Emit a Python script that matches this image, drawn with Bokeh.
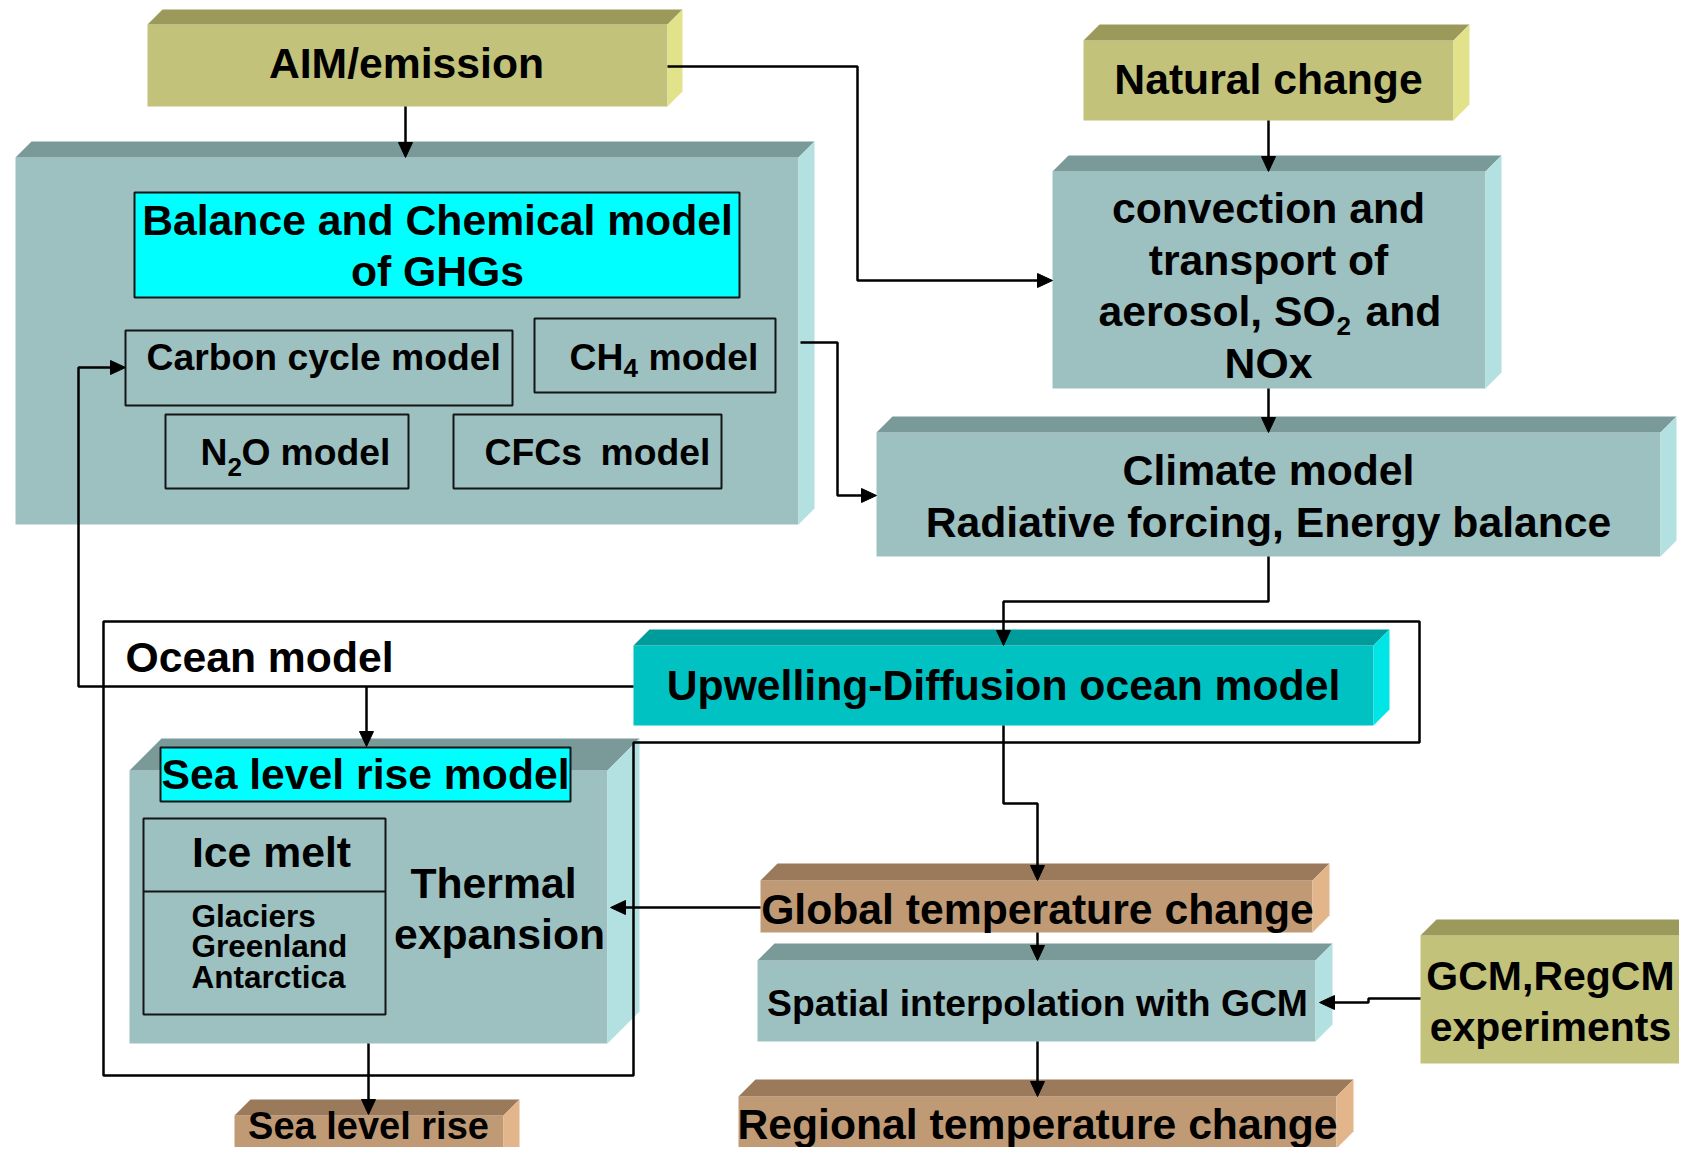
from bokeh.plotting import figure
from bokeh.models import Range1d, ColumnDataSource
from bokeh.core.properties import value
from bokeh.embed import file_html
from bokeh.resources import INLINE

W, H = 1679, 1147
FONT = value("Liberation Sans")

# ---------------- diagram content ----------------
# 3D boxes (front face) and their colour scheme
box_names = ["AIM", "Natural", "GHG", "Convection", "Climate", "Upwelling",
             "SeaModel", "GlobalT", "Spatial", "Regional", "GCM", "SeaRise"]
box_x0 = [147, 1083, 15, 1052, 876, 633, 129, 760, 757, 738, 1420, 234]
box_y0 = [24, 40, 157, 171, 432, 645, 770, 880, 960, 1096, 935, 1115]
box_x1 = [667, 1453, 798, 1485, 1660, 1373, 607, 1312, 1315, 1336, 1686, 503]
box_y1 = [106, 120, 524, 388, 556, 725, 1043, 932, 1041, 1148, 1063, 1185]
box_depth = [15, 16, 16, 16, 16, 16, 32, 17, 17, 17, 16, 16]
box_kind = ["olive", "olive", "teal", "teal", "teal", "cyan",
            "teal", "brown", "teal", "brown", "olive", "brown"]

palette = {
    "olive": ("#C2C27A", "#9C9A5A", "#E2E28A"),
    "teal": ("#9DC1C1", "#7A9999", "#B3E0E0"),
    "brown": ("#C09A74", "#9A7A5A", "#E3B58A"),
    "cyan": ("#00C2C2", "#009C9C", "#00E6E6"),
}

# inner framed rectangles
inner_x0 = [134, 125, 534, 165, 453, 160, 143]
inner_y0 = [192, 330, 318, 414, 414, 747, 818]
inner_x1 = [739, 512, 775, 408, 721, 570, 385]
inner_y1 = [297, 405, 392, 488, 488, 801, 1014]
inner_fill = ["#00FFFF", None, None, None, None, "#00FFFF", None]

# texts: (text, x, y)
big_center = [("AIM/emission", 406, 62), ("Natural change", 1268, 78),
              ("Balance and Chemical model", 437, 219), ("of GHGs", 437, 270),
              ("convection and", 1268, 207), ("transport of", 1268, 259),
              ("NOx", 1268, 362), ("Climate model", 1268, 469),
              ("Radiative forcing, Energy balance", 1268, 521),
              ("Upwelling-Diffusion ocean model", 1003, 684),
              ("Sea level rise model", 365, 773), ("Ice melt", 271, 851),
              ("Thermal", 493, 882), ("expansion", 499, 933),
              ("Global temperature change", 1037, 908),
              ("Regional temperature change", 1037, 1123)]
edge_center = [("GCM,RegCM", 1550, 975), ("experiments", 1550, 1026)]
bottom_center = [("Sea level rise", 368, 1125)]
big_left = [("Ocean model", 125, 656), ("aerosol, SO", 1098, 310), ("and", 1365, 310)]
mid_center = [("Spatial interpolation with GCM", 1037, 1002)]
mid_left = [("Carbon cycle model", 146, 356), ("CH", 569, 356), ("model", 648, 356),
            ("N", 200, 451), ("O", 241, 451), ("model", 280, 451),
            ("CFCs", 484, 451), ("model", 600, 451)]
sub_left = [("4", 623, 367), ("2", 227, 466), ("2", 1336, 325)]
small_left = [("Glaciers", 191, 915), ("Greenland", 191, 945), ("Antarctica", 191, 976)]

# connectors (polylines ending in an arrow head)
connectors = [
    [(405, 106), (405, 157)],
    [(667, 66), (857, 66), (857, 280), (1052, 280)],
    [(1268, 120), (1268, 171)],
    [(1268, 388), (1268, 432)],
    [(800, 342), (837, 342), (837, 495), (876, 495)],
    [(1268, 556), (1268, 601), (1003, 601), (1003, 645)],
    [(633, 686), (78, 686), (78, 367), (125, 367)],
    [(366, 686), (366, 746)],
    [(1003, 725), (1003, 803), (1037, 803), (1037, 880)],
    [(760, 907), (610, 907)],
    [(1037, 932), (1037, 960)],
    [(1420, 998), (1368, 998), (1368, 1002), (1319, 1002)],
    [(1037, 1041), (1037, 1096)],
    [(368, 1043), (368, 1114)],
]
ocean_outline = [(103, 621), (1419, 621), (1419, 742), (633, 742), (633, 1075), (103, 1075)]
ice_divider = [(143, 891), (385, 891)]

# ---------------- drawing ----------------
p = figure(width=W, height=H, x_range=Range1d(0, W), y_range=Range1d(H, 0),
           output_backend="svg", toolbar_location=None, min_border=0,
           x_axis_location=None, y_axis_location=None)
p.grid.visible = False
p.outline_line_color = None
p.background_fill_color = "white"
p.border_fill_color = "white"

fx, fy, fc = [], [], []
for x0, y0, x1, y1, d, k in zip(box_x0, box_y0, box_x1, box_y1, box_depth, box_kind):
    front, top, side = palette[k]
    fx.append([x0, x1, x1, x0]); fy.append([y0, y0, y1, y1]); fc.append(front)
    fx.append([x0, x0 + d, x1 + d, x1]); fy.append([y0, y0 - d, y0 - d, y0]); fc.append(top)
    fx.append([x1, x1 + d, x1 + d, x1]); fy.append([y0, y0 - d, y1 - d, y1]); fc.append(side)
p.patches(xs="xs", ys="ys", fill_color="c", line_color=None,
          source=ColumnDataSource(dict(xs=fx, ys=fy, c=fc)))

for x0, y0, x1, y1, f in zip(inner_x0, inner_y0, inner_x1, inner_y1, inner_fill):
    p.quad(left=x0, right=x1, top=y0, bottom=y1, fill_color=f,
           fill_alpha=1.0 if f else 0.0, line_color="#151515", line_width=2)

p.segment(x0=ice_divider[0][0], y0=ice_divider[0][1], x1=ice_divider[1][0], y1=ice_divider[1][1],
          line_color="#151515", line_width=2)

p.patch([q[0] for q in ocean_outline], [q[1] for q in ocean_outline],
        fill_alpha=0, line_color="black", line_width=2.5)

AH_L, AH_W = 15, 14
lx, ly, hx, hy = [], [], [], []
for pts in connectors:
    (xa, ya), (xb, yb) = pts[-2], pts[-1]
    dx, dy = xb - xa, yb - ya
    n = (dx * dx + dy * dy) ** 0.5
    ux, uy = dx / n, dy / n
    bx, by = xb - ux * AH_L, yb - uy * AH_L
    px, py = -uy, ux
    hx.append([xb, bx + px * AH_W / 2, bx - px * AH_W / 2])
    hy.append([yb, by + py * AH_W / 2, by - py * AH_W / 2])
    lx.append([q[0] for q in pts[:-1]] + [bx])
    ly.append([q[1] for q in pts[:-1]] + [by])
p.multi_line(xs=lx, ys=ly, line_color="black", line_width=2.5)
p.patches(xs=hx, ys=hy, fill_color="black", line_color="black", line_width=1)


def put(items, size, align):
    p.text(x=[t[1] for t in items], y=[t[2] for t in items], text=[t[0] for t in items],
           text_font=FONT, text_font_style="bold", text_font_size=size,
           text_align=align, text_baseline="middle", text_color="black")


put(big_center, "42.7px", "center")
put(edge_center, "41px", "center")
put(bottom_center, "38px", "center")
put(big_left, "42.7px", "left")
put(mid_center, "37.3px", "center")
put(mid_left, "37.3px", "left")
put(sub_left, "26px", "left")
put(small_left, "31.5px", "left")

open("out.html", "w").write(file_html(p, INLINE))
